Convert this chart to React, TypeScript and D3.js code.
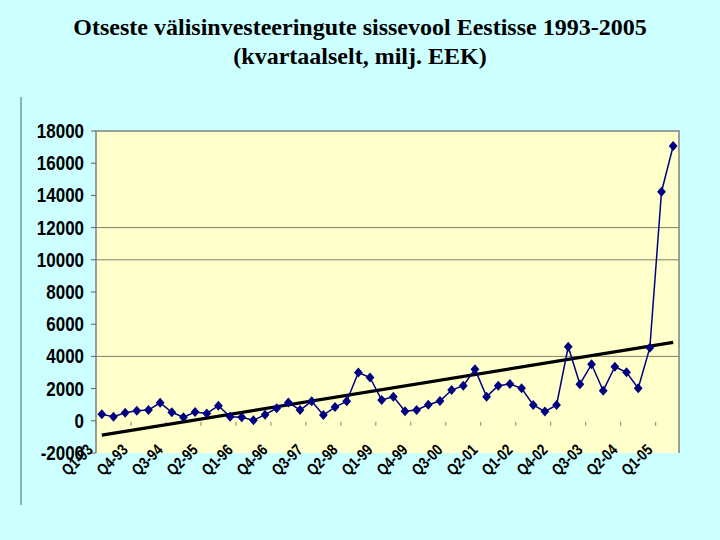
import React from 'react';
import * as d3 from 'd3';

// quarterly inflow, mln EEK, Q1-93 .. Q2-05
const values = [
  400, 250, 500, 630, 670, 1120, 530, 220, 550, 460, 940, 250, 220, 30,
  380, 780, 1140, 670, 1210, 360, 850, 1210, 3000, 2690, 1290, 1500, 590, 670,
  1000, 1230, 1910, 2180, 3200, 1500, 2180, 2290, 2020, 980, 570, 980, 4600,
  2270, 3510, 1870, 3360, 3010, 2020, 4540, 14230, 17070,
];

const years = d3.range(1993, 2006);
const quarters: string[] = [];
years.forEach(yr => {
  [1, 2, 3, 4].forEach(q => {
    if (quarters.length < values.length) quarters.push(`Q${q}-${String(yr).slice(2)}`);
  });
});

const yTicks = d3.range(-2000, 18001, 2000);
const gridValues = [4000, 10000, 12000];
const titleLines = [
  'Otseste välisinvesteeringute sissevool Eestisse 1993-2005',
  '(kvartaalselt, milj. EEK)',
];

export default function App() {
  const W = 720, H = 540;
  const left = 96, right = 679, top = 131, bottom = 453;

  const x = d3.scaleBand<string>().domain(quarters).range([left, right]);
  const y = d3.scaleLinear().domain([-2000, 18000]).range([bottom, top]);
  const cx = (q: string) => (x(q) as number) + x.bandwidth() / 2;

  // least squares trend line
  const idx = values.map((_, i) => i);
  const mx = d3.mean(idx) as number;
  const my = d3.mean(values) as number;
  const slope = d3.sum(idx, i => (i - mx) * (values[i] - my)) / d3.sum(idx, i => (i - mx) ** 2);
  const trend = (i: number) => my + slope * (i - mx);

  const line = d3.line<number>()
    .x((_, i) => cx(quarters[i]))
    .y(d => y(d));

  const labelIdx = idx.filter(i => i % 3 === 0);
  const font = '"Liberation Sans", Arial, sans-serif';

  return (
    <svg width={W} height={H} style={{ position: 'absolute', left: 0, top: 0 }}>
      <rect width={W} height={H} fill="#CCFFFF" />
      {titleLines.map((t, i) => (
        <text key={i} x={360} y={35 + i * 29} textAnchor="middle"
          fontFamily='"Liberation Serif", "Times New Roman", serif' fontWeight="bold" fontSize={24}>
          {t}
        </text>
      ))}
      <line x1={21} x2={21} y1={97} y2={505} stroke="#5f8080" strokeWidth={1.2} />

      <rect x={left} y={top} width={right - left} height={bottom - top} fill="#FFFFCC" />
      {gridValues.map(v => (
        <line key={v} x1={left} x2={right} y1={y(v)} y2={y(v)} stroke="#7f7f6a" strokeWidth={1} />
      ))}
      <path d={`M${left},${bottom}V${top}H${right}V${bottom}`} fill="none" stroke="#808080" strokeWidth={1.5} />

      {yTicks.map(v => (
        <g key={v}>
          <line x1={left - 5} x2={left} y1={y(v)} y2={y(v)} stroke="#606060" />
          <text transform={`translate(84,${y(v)}) scale(0.87,1)`} textAnchor="end" dy="0.36em"
            fontFamily={font} fontWeight="bold" fontSize={19.5}>{v}</text>
        </g>
      ))}

      {labelIdx.map(i => (
        <line key={i} x1={x(quarters[i]) as number} x2={x(quarters[i]) as number}
          y1={y(0) + 1} y2={y(0) + 5} stroke="#808080" />
      ))}

      <line x1={cx(quarters[0])} y1={y(trend(0))} x2={cx(quarters[values.length - 1])}
        y2={y(trend(values.length - 1))} stroke="#000" strokeWidth={3.2} />

      <path d={line(values) as string} fill="none" stroke="#000080" strokeWidth={1.5} />
      {values.map((v, i) => (
        <path key={i} transform={`translate(${cx(quarters[i])},${y(v)})`}
          d="M0,-5L4.4,0L0,5L-4.4,0Z" fill="#000080" />
      ))}

      {labelIdx.map(i => (
        <text key={i} x={0} y={0}
          transform={`translate(${(cx(quarters[i]) - 8).toFixed(1)},451) rotate(-45)`}
          textAnchor="end" fontFamily={font} fontWeight="bold" fontSize={16}
          textLength={36} lengthAdjust="spacingAndGlyphs">
          {quarters[i]}
        </text>
      ))}
    </svg>
  );
}
